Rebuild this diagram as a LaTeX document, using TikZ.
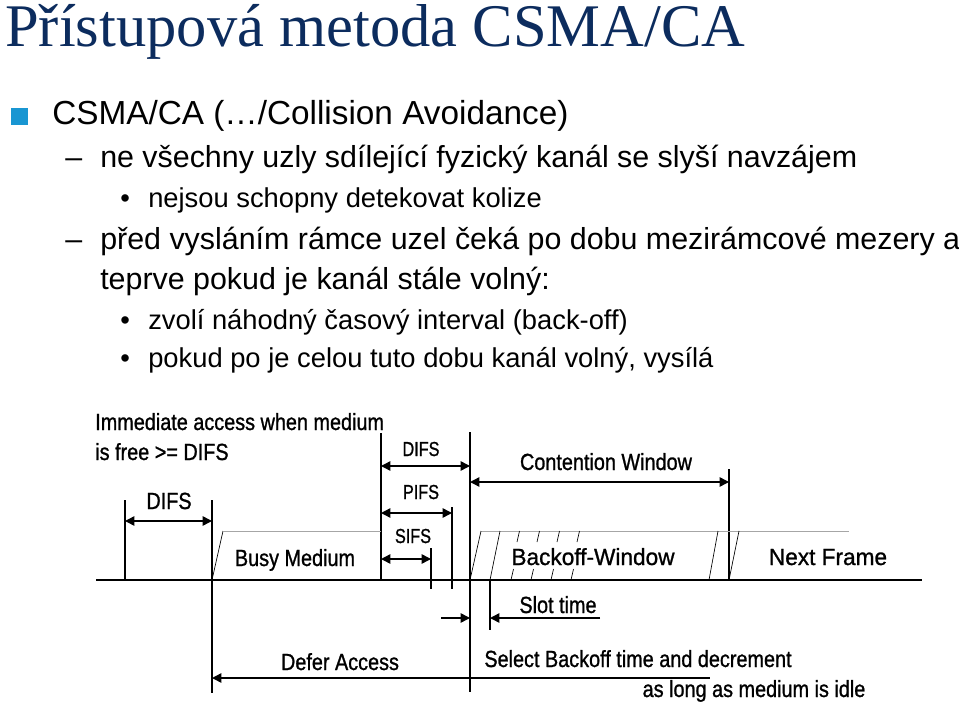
\documentclass[tikz,border=0pt]{standalone}
\usepackage{fontspec}
\setmainfont{Liberation Sans}
\newfontfamily\titlefont{Liberation Serif}
\newfontfamily\diagfont[FakeStretch=0.85,FakeBold=1]{Liberation Sans}
\newfontfamily\diagwide[FakeStretch=0.97,FakeBold=1]{Liberation Sans}
\newfontfamily\diagsmall[FakeStretch=0.8,FakeBold=1]{Liberation Sans}
\usetikzlibrary{arrows.meta}
\definecolor{titleblue}{RGB}{12,44,94}
\definecolor{sqblue}{RGB}{25,150,210}
\begin{document}
\begin{tikzpicture}[x=0.75pt,y=-0.75pt,
  txt/.style={inner sep=0pt, anchor=base west},
  lvlA/.style={txt, font=\fontsize{25}{30}\selectfont},
  lvlB/.style={txt, font=\fontsize{22.8}{27}\selectfont},
  lvlC/.style={txt, font=\fontsize{20.5}{25}\selectfont},
  lbl/.style={inner sep=0pt, anchor=base, font=\diagfont\fontsize{17.5}{20}\selectfont},
  lblw/.style={lbl, anchor=base west},
  lblbig/.style={lbl, font=\diagwide\fontsize{17.5}{20}\selectfont},
  lblsm/.style={lbl, font=\diagsmall\fontsize{15.2}{18}\selectfont},
  thick line/.style={line width=1.2pt},
  thin line/.style={line width=0.8pt},
  hair/.style={line width=0.5pt},
  grayline/.style={line width=0.6pt, black!35},
  dimarrow/.style={line width=1.1pt, {Triangle[length=7pt,width=7pt]}-{Triangle[length=7pt,width=7pt]}},
  onearrow/.style={line width=1.1pt, -{Triangle[length=7pt,width=7pt]}}
]
\useasboundingbox (0,0) rectangle (959,705);

% ---------- title and bullet text ----------
\node[txt, text=titleblue, font=\titlefont\fontsize{45.4}{50}\selectfont] (title) at (5,47) {Přístupová metoda CSMA/CA};

\fill[sqblue] (11,108) rectangle (28,125);
\node[lvlA] (l1) at (52,125) {CSMA/CA (…/Collision Avoidance)};

\node[lvlB] (d1) at (65,168) {–};
\node[lvlB] (l2) at (100,168) {ne všechny uzly sdílející fyzický kanál se slyší navzájem};

\node[lvlC] (b1) at (120,208) {•};
\node[lvlC] (l3) at (148,208) {nejsou schopny detekovat kolize};

\node[lvlB] (d2) at (65,250) {–};
\node[lvlB] (l4) at (100,250) {před vysláním rámce uzel čeká po dobu mezirámcové mezery a};
\node[lvlB] (l5) at (100,290) {teprve pokud je kanál stále volný:};

\node[lvlC] (b2) at (120,330) {•};
\node[lvlC] (l6) at (148,330) {zvolí náhodný časový interval (back-off)};
\node[lvlC] (b3) at (120,368) {•};
\node[lvlC] (l7) at (148,368) {pokud po je celou tuto dobu kanál volný, vysílá};

% ---------- diagram coordinates ----------
\coordinate (axL) at (96,580);
\coordinate (axR) at (922,580);

\coordinate (v1t) at (125,500);  \coordinate (v1b) at (125,580);
\coordinate (v2t) at (212,500);  \coordinate (v2b) at (212,693);
\coordinate (v3t) at (381,433);  \coordinate (v3b) at (381,580);
\coordinate (v4t) at (470,432);  \coordinate (v4b) at (470,692);
\coordinate (v5t) at (452,507);  \coordinate (v5b) at (452,589);
\coordinate (v6t) at (431,548);  \coordinate (v6b) at (431,589);
\coordinate (v7t) at (729,469);  \coordinate (v7b) at (729,580);
\coordinate (v8t) at (490,580);  \coordinate (v8b) at (490,630);

% main time axis
\draw[line width=1.5pt] (axL) -- (axR);

% vertical markers
\draw[thick line] (v1t) -- (v1b);
\draw[thick line] (v2t) -- (v2b);
\draw[thick line] (v3t) -- (v3b);
\draw[thick line] (v4t) -- (v4b);
\draw[thin line] (v5t) -- (v5b);
\draw[thin line] (v6t) -- (v6b);
\draw[thick line] (v7t) -- (v7b);
\draw[thin line] (v8t) -- (v8b);

% busy medium frame
\coordinate (bm1) at (223,531);
\coordinate (bm2) at (381,531);
\draw[hair] (v2b |- axL) -- (bm1);
\draw[grayline] (bm1) -- (bm2);

% backoff window frame
\coordinate (bw1) at (481,531);
\coordinate (bw2) at (849,531);
\draw[grayline] (bw1) -- (bw2);
\draw[hair] (470,580) -- (bw1);
\draw[hair] (490,580) -- (500,531);
\foreach \k in {0,1,2,3}{
  \draw[hair] (511+20*\k,580) -- (513.5+20*\k,569);
  \draw[hair] (517+20*\k,542) -- (519.5+20*\k,531);
}
\draw[hair] (709,580) -- (718,531);
\draw[hair] (729,580) -- (739,531);

% dimension arrows
\coordinate (difsA) at (125,521); \coordinate (difsB) at (212,521);
\draw[dimarrow] (difsA) -- (difsB);
\coordinate (difs2A) at (381,466); \coordinate (difs2B) at (470,466);
\draw[dimarrow] (difs2A) -- (difs2B);
\coordinate (pifsA) at (381,513); \coordinate (pifsB) at (452,513);
\draw[dimarrow] (pifsA) -- (pifsB);
\coordinate (sifsA) at (381,559); \coordinate (sifsB) at (431,559);
\draw[dimarrow] (sifsA) -- (sifsB);
\coordinate (cwA) at (470,482); \coordinate (cwB) at (729,482);
\draw[dimarrow] (cwA) -- (cwB);

% slot time
\coordinate (stL) at (441,618); \coordinate (stM) at (470,618);
\coordinate (stN) at (490,618); \coordinate (stR) at (600,618);
\draw[onearrow] (stL) -- (stM);
\draw[onearrow] (stR) -- (stN);

% defer access / select backoff
\coordinate (daL) at (212,678); \coordinate (daM) at (470,678); \coordinate (daR) at (710,678);
\draw[onearrow] (daM) -- (daL);
\draw[line width=1.1pt] (daM) -- (daR);

% ---------- diagram labels ----------
\node[lblw] (imm1) at (95,430) {Immediate access when medium};
\node[lblw] (imm2) at (95,460) {is free >= DIFS};
\node[lbl] (difsL) at (169,509) {DIFS};
\node[lblsm] (difsT) at (421,456) {DIFS};
\node[lblsm] (pifs) at (421,499) {PIFS};
\node[lblsm] (sifs) at (413,543) {SIFS};
\node[lbl] (busy) at (295,566) {Busy Medium};
\node[lbl] (cw) at (606,470) {Contention Window};
\node[lblbig] (bow) at (593,565) {Backoff-Window};
\node[lblbig] (nf) at (828,565) {Next Frame};
\node[lbl] (slot) at (558,613) {Slot time};
\node[lbl] (defer) at (340,670) {Defer Access};
\node[lbl] (sel1) at (638,667) {Select Backoff time and decrement};
\node[lbl] (sel2) at (754,697) {as long as medium is idle};
\end{tikzpicture}
\end{document}
